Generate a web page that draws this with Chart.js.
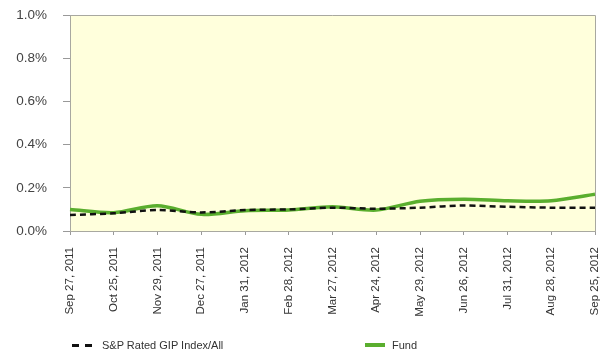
<!DOCTYPE html>
<html>
<head>
<meta charset="utf-8">
<script src="https://cdn.jsdelivr.net/npm/chart.js@4/dist/chart.umd.min.js"></script>
<style>
  html, body { margin: 0; padding: 0; background: #fff; }
  #wrap { position: relative; width: 611px; height: 354px; }
  canvas { position: absolute; left: 0; top: 0; }
  .leg { position: absolute; top: 339px; font: 11px "Liberation Sans", Arial, sans-serif; color: #333; white-space: nowrap; }
  .leg span.sw { display: inline-block; vertical-align: middle; height: 0; position: relative; top: -1px; }
</style>
</head>
<body>
<div id="wrap">
  <canvas id="c" width="611" height="354"></canvas>
  <div class="leg" style="left:72px"><span class="sw" style="width:20px; margin-right:10px; border-top:3px solid transparent; border-image: repeating-linear-gradient(90deg,#111 0 8px,transparent 8px 12px) 3;"></span>S&amp;P Rated GIP Index/All</div>
  <div class="leg" style="left:365px"><span class="sw" style="width:20px; margin-right:7px; border-top:4px solid #5aae2e;"></span>Fund</div>
</div>
<script>
// Month-end observation dates
const dates = ['Sep 27, 2011', 'Oct 25, 2011', 'Nov 29, 2011', 'Dec 27, 2011', 'Jan 31, 2012', 'Feb 28, 2012',
  'Mar 27, 2012', 'Apr 24, 2012', 'May 29, 2012', 'Jun 26, 2012', 'Jul 31, 2012', 'Aug 28, 2012', 'Sep 25, 2012'];

// Yields, in percent
const indexYield = [0.074, 0.082, 0.097, 0.086, 0.097, 0.100, 0.108, 0.103, 0.108, 0.118, 0.112, 0.108, 0.108];
const fundYield  = [0.100, 0.085, 0.117, 0.077, 0.094, 0.097, 0.112, 0.097, 0.138, 0.147, 0.140, 0.140, 0.170];

const yTicks = [0, 0.2, 0.4, 0.6, 0.8, 1.0];

const plotFrame = {
  id: 'plotFrame',
  beforeDraw(chart) {
    const { ctx, chartArea: a } = chart;
    ctx.save();
    ctx.fillStyle = '#ffffdc';
    ctx.fillRect(a.left, a.top, a.right - a.left, a.bottom - a.top);
    ctx.restore();
  },
  afterDraw(chart) {
    const { ctx, chartArea: a } = chart;
    ctx.save();
    ctx.strokeStyle = '#a8a8a0';
    ctx.lineWidth = 1;
    ctx.beginPath();
    ctx.moveTo(a.left, a.top + 0.5);
    ctx.lineTo(a.right + 0.5, a.top + 0.5);
    ctx.lineTo(a.right + 0.5, a.bottom);
    ctx.stroke();
    ctx.restore();
  }
};

const font = { family: '"Liberation Sans", Arial, sans-serif', size: 11.5 };

new Chart(document.getElementById('c'), {
  type: 'line',
  data: {
    labels: dates,
    datasets: [
      {
        label: 'Fund',
        data: fundYield,
        borderColor: '#5aae2e',
        borderWidth: 3.5,
        pointRadius: 0,
        tension: 0.3,
        order: 2
      },
      {
        label: 'S&P Rated GIP Index/All',
        data: indexYield,
        borderColor: '#111111',
        borderWidth: 2.5,
        borderDash: [6, 4],
        pointRadius: 0,
        tension: 0.3,
        order: 1
      }
    ]
  },
  options: {
    responsive: false,
    animation: false,
    layout: { padding: { left: 0, right: 16, top: 15, bottom: 0 } },
    plugins: { legend: { display: false }, tooltip: { enabled: false } },
    scales: {
      x: {
        offset: false,
        grid: { display: true, drawOnChartArea: false, tickLength: 4, color: '#999' },
        border: { color: '#a8a8a0' },
        ticks: { minRotation: 90, maxRotation: 90, autoSkip: false, padding: 12, color: '#333', font },
        afterFit(s) { s.height = 123; s.paddingLeft = 0; s.paddingRight = 0; }
      },
      y: {
        min: 0,
        max: 1.0,
        afterBuildTicks(s) { s.ticks = yTicks.map(v => ({ value: v })); },
        grid: { display: true, drawOnChartArea: false, tickLength: 7, color: '#999' },
        border: { color: '#a8a8a0' },
        ticks: { padding: 16, color: '#444', font: { ...font, size: 13.5 }, callback: v => v.toFixed(1) + '%' },
        afterFit(s) { s.width = 70; s.paddingTop = 0; s.paddingBottom = 0; }
      }
    }
  },
  plugins: [plotFrame]
});
</script>
</body>
</html>
